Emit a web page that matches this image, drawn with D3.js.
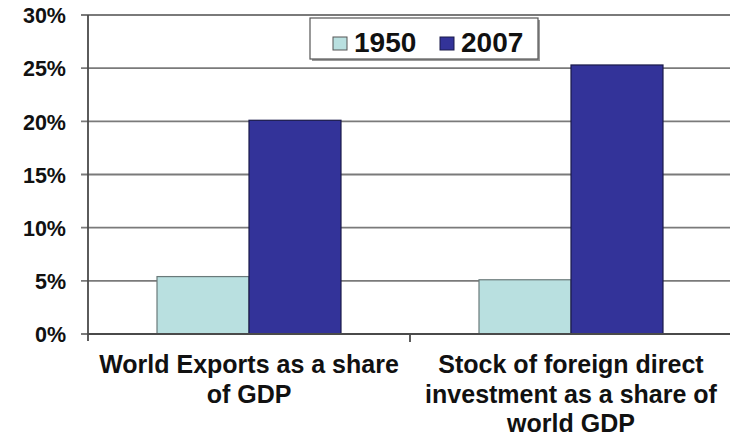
<!DOCTYPE html>
<html>
<head>
<meta charset="utf-8">
<script src="https://cdn.jsdelivr.net/npm/d3@7"></script>
<style>
  body { margin: 0; background: #fff; }
  text { font-family: "Liberation Sans", Arial, sans-serif; font-weight: bold; fill: #111; }
</style>
</head>
<body>
<div id="container"></div>
<script>
// data
const categories = ["exports", "fdi"];
const categoryLines = [
  ["World Exports as a share", "of GDP"],
  ["Stock of foreign direct", "investment as a share of", "world GDP"]
];
const seriesNames = ["1950", "2007"];
const values1950 = [0.054, 0.051];
const values2007 = [0.201, 0.253];
const yTicks = [0, 0.05, 0.1, 0.15, 0.2, 0.25, 0.3];
const colors = ["#b9e0e0", "#333399"];

const width = 730, height = 438;
const margin = { top: 15, right: -2, bottom: 104, left: 88 };

const svg = d3.select("#container").append("svg")
  .attr("width", width)
  .attr("height", height);

const y = d3.scaleLinear().domain([0, 0.3]).range([height - margin.bottom, margin.top]);
const x0 = d3.scaleBand().domain(categories)
  .range([margin.left, width - margin.right])
  .paddingInner(0.4286).paddingOuter(0.2143);
const x1 = d3.scaleBand().domain(seriesNames).range([0, x0.bandwidth()]);

// gridlines
svg.append("g")
  .selectAll("line")
  .data(yTicks)
  .enter()
  .append("line")
  .attr("x1", margin.left - 7)
  .attr("x2", width)
  .attr("y1", (d) => y(d))
  .attr("y2", (d) => y(d))
  .attr("stroke", "#7a7a7a")
  .attr("stroke-width", 1.8);

// y axis labels
const yAxis = d3.axisLeft(y).tickValues(yTicks).tickFormat(d3.format(".0%")).tickSize(0).tickPadding(22);
const yg = svg.append("g").attr("transform", `translate(${margin.left},0)`).call(yAxis);
yg.select(".domain").remove();
yg.selectAll("text").style("font-size", "21.5px").attr("dy", "0.36em");

// bars
const rows = categories.map((c, i) => ({ cat: c, vals: [values1950[i], values2007[i]] }));
const groups = svg.selectAll(".grp").data(rows).enter().append("g")
  .attr("transform", (d) => `translate(${x0(d.cat)},0)`);
groups.selectAll("rect")
  .data((d) => d.vals.map((v, i) => ({ key: seriesNames[i], v: v, i: i })))
  .enter()
  .append("rect")
  .attr("x", (d) => x1(d.key))
  .attr("width", x1.bandwidth())
  .attr("y", (d) => y(d.v))
  .attr("height", (d) => y(0) - y(d.v))
  .attr("fill", (d) => colors[d.i])
  .attr("stroke", (d) => d.i === 0 ? "#6a7a7a" : "#1a1a4a")
  .attr("stroke-width", 1.2);

// axes lines
svg.append("line")
  .attr("x1", margin.left).attr("x2", margin.left)
  .attr("y1", y(0.3)).attr("y2", y(0) + 7)
  .attr("stroke", "#4a4a4a").attr("stroke-width", 1.8);
svg.append("line")
  .attr("x1", margin.left).attr("x2", width)
  .attr("y1", y(0)).attr("y2", y(0))
  .attr("stroke", "#4a4a4a").attr("stroke-width", 1.8);

// category boundary ticks
const step = x0.step();
const bounds = categories.map((c) => x0(c) - step * x0.paddingInner() / 2).slice(1);
svg.append("g").selectAll("line").data(bounds).enter().append("line")
  .attr("x1", (d) => d).attr("x2", (d) => d)
  .attr("y1", y(0)).attr("y2", y(0) + 8)
  .attr("stroke", "#4a4a4a").attr("stroke-width", 1.8);

// category labels
const labels = svg.selectAll(".cat").data(categories).enter().append("text")
  .attr("text-anchor", "middle")
  .style("font-size", "25px")
  .attr("transform", (d) => `translate(${x0(d) + x0.bandwidth() / 2},${y(0) + 39})`);
labels.selectAll("tspan")
  .data((d, i) => categoryLines[i])
  .enter()
  .append("tspan")
  .attr("x", 0)
  .attr("dy", (d, i) => i === 0 ? 0 : 29.5)
  .text((d) => d);

// legend
const legend = svg.append("g").attr("transform", "translate(310,18)");
legend.append("rect")
  .attr("x", 2).attr("y", 2).attr("width", 228).attr("height", 41)
  .attr("fill", "#9a9a9a");
legend.append("rect")
  .attr("width", 228).attr("height", 41)
  .attr("fill", "#fff").attr("stroke", "#555").attr("stroke-width", 1.2);
const items = legend.selectAll(".item").data(seriesNames).enter().append("g")
  .attr("transform", (d, i) => `translate(${23 + i * 107},0)`);
items.append("rect")
  .attr("y", 19).attr("width", 14).attr("height", 13)
  .attr("fill", (d, i) => colors[i])
  .attr("stroke", (d, i) => i === 0 ? "#555" : "#1a1a4a");
items.append("text")
  .attr("x", 21).attr("y", 34)
  .style("font-size", "28px")
  .text((d) => d);
</script>
</body>
</html>
